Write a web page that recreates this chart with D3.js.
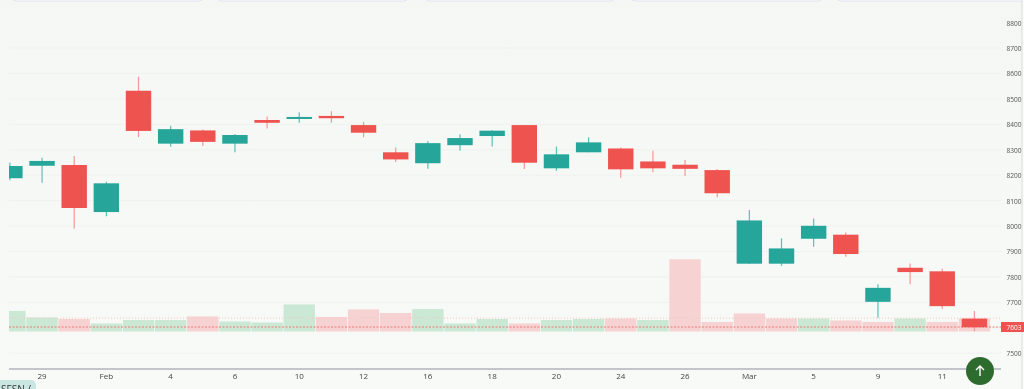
<!DOCTYPE html>
<html>
<head>
<meta charset="utf-8">
<script src="https://cdn.jsdelivr.net/npm/d3@7"></script>
<style>
  html, body { margin: 0; padding: 0; overflow: hidden; background: linear-gradient(#f4f7f3, #f8faf8); height: 100%; }
  svg { filter: blur(0.4px); }
  text { font-family: "Open Sans", sans-serif; }
</style>
</head>
<body>
<div id="chart-area"></div>
<script>
var slots = d3.range(31);
var open = [8188,8237,8240,8055,8532,8324,8376,8324,8417,8421,8433,8397,8290,8247,8318,8354,8397,8227,8290,8305,8254,8241,8220,7852,7852,7950,7966,7702,7836,7822,7636];
var high = [8250,8269,8275,8174,8587,8394,8380,8362,8431,8447,8451,8409,8309,8334,8361,8377,8397,8313,8349,8309,8296,8260,8224,8063,7952,8030,7975,7771,7853,7832,7666];
var low = [8180,8170,7989,8039,8350,8312,8315,8290,8384,8406,8406,8349,8252,8225,8296,8313,8224,8217,8290,8190,8212,8197,8113,7852,7843,7919,7879,7639,7771,7675,7586];
var close = [8236,8256,8071,8168,8374,8381,8331,8358,8406,8429,8424,8367,8262,8326,8346,8375,8249,8282,8329,8223,8227,8225,8129,8022,7912,8001,7890,7757,7819,7685,7602];
var volume = [20.5,14,12.5,8,11.5,11.5,15,10,9,27,14.5,22,18.5,22.5,8,12.5,8,11.5,12.5,13,11.5,72,9.5,18,13,13,11,9.5,13,9.5,13];
var volumeUp = [1,1,0,1,1,1,0,1,1,1,0,0,0,1,1,1,0,1,1,0,1,0,0,0,0,1,0,0,1,0,0];
var priceTicks = [8800,8700,8600,8500,8400,8300,8200,8100,8000,7900,7800,7700,7600,7500];
var gridTicks = [8700,8600,8500,8400,8300,8200,8100,8000,7900,7800,7700,7600,7500];
var dateSlots = [1,3,5,7,9,11,13,15,17,19,21,23,25,27,29];
var dateLabels = ["29","Feb","4","6","10","12","16","18","20","24","26","Mar","5","9","11"];
var lastPrice = 7603;
var prevLine = 7638;

var width = 1024;
var height = 389;
var up = "#26a69a";
var down = "#ef5350";

var svg = d3.select("#chart-area").append("svg")
	.attr("width", width)
	.attr("height", height)
	.style("display", "block");

var x = d3.scaleLinear()
	.domain([0, 30])
	.range([9.9, 974.4]);

var y = d3.scaleLinear()
	.domain([7500, 8800])
	.range([353.2, 22.6]);

var v = d3.scaleLinear()
	.domain([0, 72])
	.range([331.5, 259.3]);

svg.append("defs").append("clipPath")
	.attr("id", "plot")
	.append("rect")
	.attr("x", 9)
	.attr("y", 0)
	.attr("width", 992)
	.attr("height", 369);

// cards cut off at the top of the page
[[12, 191], [217, 191], [425, 190], [631, 191], [837, 195]].forEach((c) => {
	svg.append("rect")
		.attr("x", c[0])
		.attr("y", -10)
		.attr("width", c[1])
		.attr("height", 11)
		.attr("rx", 4)
		.attr("fill", "#ffffff")
		.attr("stroke", "#dfe3ec");
});

//Grid
svg.append("g").selectAll("line")
	.data(gridTicks)
	.enter().append("line")
	.attr("x1", 9)
	.attr("x2", 1001)
	.attr("y1", (d) => { return y(d); })
	.attr("y2", (d) => { return y(d); })
	.attr("stroke", "#eff2ef");

var plot = svg.append("g").attr("clip-path", "url(#plot)");

//Volume
plot.append("g").selectAll("rect")
	.data(slots)
	.enter().append("rect")
	.attr("x", (d) => { return x(d) - 15.7; })
	.attr("width", 31.4)
	.attr("y", (d) => { return v(volume[d]); })
	.attr("height", (d) => { return v(0) - v(volume[d]); })
	.attr("fill", (d) => { return volumeUp[d] ? "#cbe8d5" : "#f6d3d2"; });

//Price lines
plot.append("line")
	.attr("x1", 9).attr("x2", 1001)
	.attr("y1", y(prevLine)).attr("y2", y(prevLine))
	.attr("stroke", "#f6c4c2")
	.attr("stroke-dasharray", "1,2");

plot.append("line")
	.attr("x1", 9).attr("x2", 1001)
	.attr("y1", y(lastPrice)).attr("y2", y(lastPrice))
	.attr("stroke", "#ea7a78")
	.attr("stroke-dasharray", "2,1.5");

//Wicks
plot.append("g").selectAll("line")
	.data(slots)
	.enter().append("line")
	.attr("x1", (d) => { return x(d); })
	.attr("x2", (d) => { return x(d); })
	.attr("y1", (d) => { return y(high[d]); })
	.attr("y2", (d) => { return y(low[d]); })
	.attr("stroke", (d) => { return close[d] >= open[d] ? "#5dbfb5" : "#f59896"; })
	.attr("stroke-width", 1.2);

//Bodies
plot.append("g").selectAll("rect")
	.data(slots)
	.enter().append("rect")
	.attr("x", (d) => { return x(d) - 12.7; })
	.attr("width", 25.4)
	.attr("y", (d) => { return y(Math.max(open[d], close[d])); })
	.attr("height", (d) => { return Math.abs(y(open[d]) - y(close[d])); })
	.attr("fill", (d) => { return close[d] >= open[d] ? up : down; });

//Time axis
svg.append("line")
	.attr("x1", 9).attr("x2", 1001)
	.attr("y1", 369).attr("y2", 369)
	.attr("stroke", "#8f8f9e")
	.attr("stroke-width", 1.2);

svg.append("g").selectAll("text")
	.data(dateSlots)
	.enter().append("text")
	.attr("x", (d) => { return x(d); })
	.attr("y", 379)
	.attr("text-anchor", "middle")
	.attr("font-size", "8px")
	.attr("fill", "#444")
	.text((d, i) => { return dateLabels[i]; });

//Page edge at the right
svg.append("rect")
	.attr("x", 1022)
	.attr("y", 0)
	.attr("width", 2)
	.attr("height", height)
	.attr("fill", "#fbfbfb");

svg.append("line")
	.attr("x1", 1022).attr("x2", 1022)
	.attr("y1", 0).attr("y2", height)
	.attr("stroke", "#dcdcdc");

//Last price tag
svg.append("rect")
	.attr("x", 1001)
	.attr("y", y(lastPrice) - 5)
	.attr("width", 23)
	.attr("height", 10)
	.attr("fill", down);

//Price axis, digits squeezed to fit before the page edge
svg.append("g").selectAll("text")
	.data(priceTicks.filter((d) => { return d !== 7600; }).concat([lastPrice]))
	.enter().append("text")
	.attr("x", 1006.5)
	.attr("y", (d) => { return y(d) + 3; })
	.attr("font-size", "8px")
	.attr("textLength", 15)
	.attr("lengthAdjust", "spacingAndGlyphs")
	.attr("fill", (d) => { return d === lastPrice ? "#fff" : "#555"; })
	.text((d) => { return d; });

//Symbol chip, cut off at the bottom
svg.append("rect")
	.attr("x", -8)
	.attr("y", 380)
	.attr("width", 44)
	.attr("height", 20)
	.attr("rx", 5)
	.attr("fill", "#c9e6e2");

svg.append("text")
	.attr("x", 1)
	.attr("y", 393)
	.attr("font-size", "10px")
	.attr("fill", "#333")
	.text("SFSN /");

//Scroll-to-top button
var btn = svg.append("g").attr("transform", "translate(980,371)");
btn.append("circle").attr("r", 14).attr("fill", "#2e6b2e");
btn.append("path")
	.attr("d", "M0,5V-5M-4,-1L0,-5L4,-1")
	.attr("fill", "none")
	.attr("stroke", "#fff")
	.attr("stroke-width", 1.4);
</script>
</body>
</html>
